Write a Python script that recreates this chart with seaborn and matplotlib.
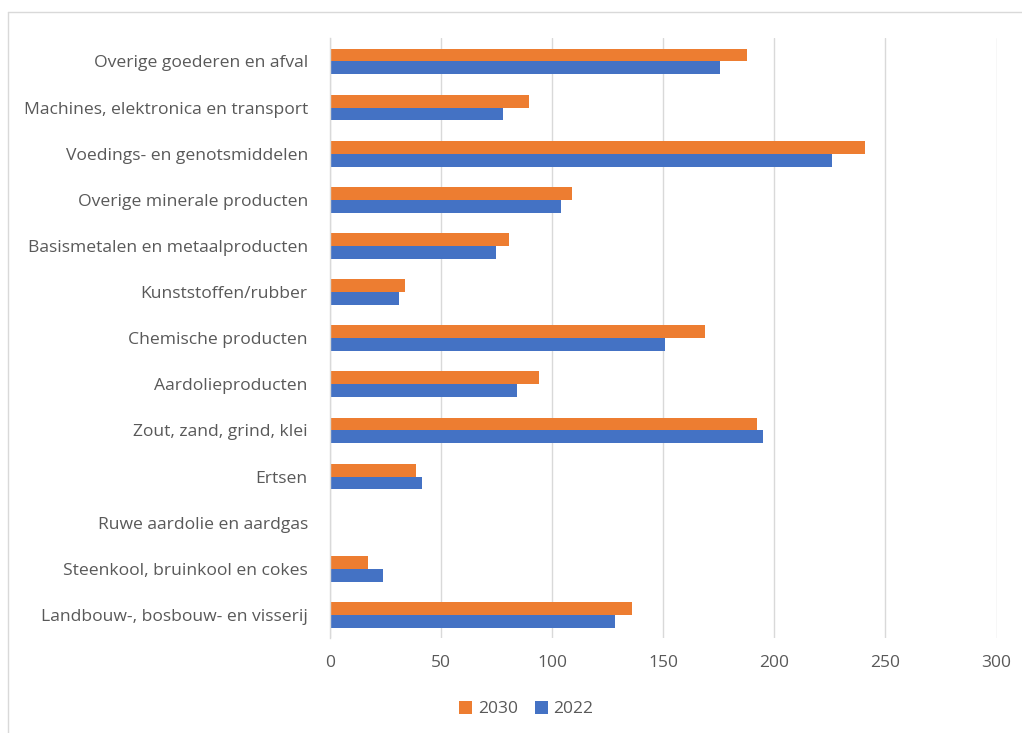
import numpy as np
import pandas as pd
import seaborn as sns
import matplotlib
matplotlib.use("Agg")
import matplotlib.pyplot as plt
from matplotlib.lines import Line2D

categories = [
    "Overige goederen en afval",
    "Machines, elektronica en transport",
    "Voedings- en genotsmiddelen",
    "Overige minerale producten",
    "Basismetalen en metaalproducten",
    "Kunststoffen/rubber",
    "Chemische producten",
    "Aardolieproducten",
    "Zout, zand, grind, klei",
    "Ertsen",
    "Ruwe aardolie en aardgas",
    "Steenkool, bruinkool en cokes",
    "Landbouw-, bosbouw- en visserij",
]
values_2030 = [187.5, 89.5, 241, 109, 80.5, 33.8, 168.6, 94, 192, 38.6, 0, 17.3, 136]
values_2022 = [175.4, 78, 225.8, 104, 74.5, 31.2, 150.6, 84.2, 195, 41.6, 0, 24, 128.4]
years = ["2030", "2022"]
xticks = [0, 50, 100, 150, 200, 250, 300]

df = pd.DataFrame({
    "categorie": categories * 2,
    "jaar": [years[0]] * len(categories) + [years[1]] * len(categories),
    "waarde": values_2030 + values_2022,
})

sns.set_theme(style="white")
plt.rcParams["font.family"] = ["Open Sans", "DejaVu Sans"]

TEXT = "#595959"
GRID = "#D9D9D9"

fig = plt.figure(figsize=(10.22, 7.33), dpi=100)
ax = fig.add_axes([330 / 1022, 1 - 638 / 733, (996.5 - 330) / 1022, (638 - 38.4) / 733])

sns.barplot(data=df, y="categorie", x="waarde", hue="jaar", hue_order=years,
            order=categories, palette={"2030": "#ED7D31", "2022": "#4472C4"},
            width=0.56, orient="h", ax=ax, errorbar=None, saturation=1,
            linewidth=0)

ax.set_xlim(0, 300)
ax.set_xticks(xticks)
ax.set_xticklabels([str(t) for t in xticks])
ax.xaxis.grid(True, color=GRID, lw=1)
ax.yaxis.grid(False)
ax.set_axisbelow(True)
for s in ["top", "right", "bottom"]:
    ax.spines[s].set_visible(False)
ax.spines["left"].set_color(GRID)
ax.spines["left"].set_linewidth(1)
ax.set_xlabel("")
ax.set_ylabel("")
ax.tick_params(axis="x", length=0, labelsize=12.5, labelcolor=TEXT, pad=12)
ax.tick_params(axis="y", length=0, labelsize=12.6, labelcolor=TEXT, pad=16)

handles, labels = ax.get_legend_handles_labels()
if ax.legend_ is not None:
    ax.legend_.remove()
fig.legend(handles, labels, loc="center", bbox_to_anchor=(0.515, 1 - 709 / 733),
           ncol=2, frameon=False, handlelength=0.75, handleheight=0.75,
           columnspacing=1.0, handletextpad=0.3, fontsize=12.5, labelcolor=TEXT)

# chart border (left and top visible)
fig.add_artist(Line2D([8 / 1022, 8 / 1022], [0, 1 - 12 / 733], transform=fig.transFigure,
                      color=GRID, lw=1))
fig.add_artist(Line2D([8 / 1022, 1], [1 - 12 / 733, 1 - 12 / 733], transform=fig.transFigure,
                      color=GRID, lw=1))

fig.savefig("out.png", dpi=100, facecolor="white")
